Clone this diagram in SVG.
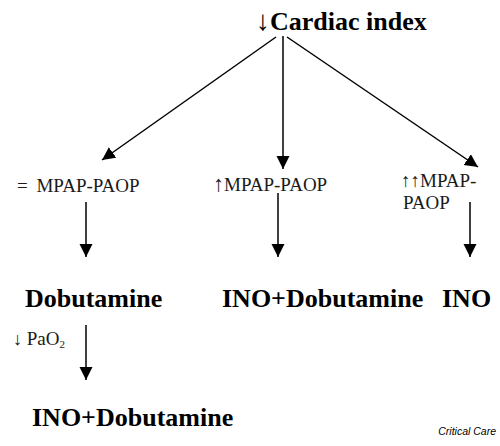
<svg xmlns="http://www.w3.org/2000/svg" width="500" height="446" viewBox="0 0 500 446">
<defs>
<marker id="ah" markerUnits="userSpaceOnUse" markerWidth="14" markerHeight="14" refX="13" refY="6.5" orient="auto">
<path d="M0,0 L13,6.5 L0,13 z" fill="#000"/>
</marker>
<style>
.b{font-family:"Liberation Serif","Times New Roman",serif;font-weight:bold;font-size:26px;fill:#000}
.r{font-family:"Liberation Serif","Times New Roman",serif;font-size:19px;fill:#1a1a1a}
.ar{font-weight:normal}
.c{stroke:#000;stroke-width:1.5;fill:none;marker-end:url(#ah)}
</style>
</defs>
<rect width="500" height="446" fill="#fff"/>
<g id="n-cardiac"><text class="b" x="256" y="30"><tspan class="ar" font-size="28">↓</tspan>Cardiac index</text></g>
<g id="n-equal"><text class="r" x="17" y="192" font-size="18.5">= <tspan dx="4">MPAP-PAOP</tspan></text></g>
<g id="n-up"><text class="r" x="213" y="191" font-size="21"><tspan font-size="22">↑</tspan>MPAP-PAOP</text></g>
<g id="n-upup"><text class="r" x="401" y="187" font-size="20">↑↑MPAP-</text><text class="r" x="403" y="209" font-size="20">PAOP</text></g>
<g id="n-dobu"><text class="b" x="25" y="307">Dobutamine</text></g>
<g id="n-inodobu"><text class="b" x="222" y="307">INO+Dobutamine</text></g>
<g id="n-ino"><text class="b" x="442" y="307">INO</text></g>
<g id="n-inodobu2"><text class="b" x="32" y="426">INO+Dobutamine</text></g>
<g id="connectors">
<line class="c" x1="276" y1="37" x2="102" y2="160"/>
<line class="c" x1="283" y1="36" x2="283" y2="169"/>
<line class="c" x1="287" y1="37" x2="478" y2="167"/>
<line class="c" x1="86" y1="202" x2="86" y2="257"/>
<line class="c" x1="278" y1="193" x2="278" y2="257"/>
<line class="c" x1="470" y1="202" x2="470" y2="257"/>
<line class="c" x1="86" y1="325" x2="86" y2="380"/>
</g>
<g id="lbl-pao2"><text class="r" x="13" y="345" font-size="16"><tspan font-size="18">↓</tspan> PaO<tspan font-size="11" dy="3">2</tspan></text></g>
<text x="496" y="435" text-anchor="end" font-family="Liberation Sans, Arial, sans-serif" font-style="italic" font-size="10.5" fill="#000">Critical Care</text>
</svg>
